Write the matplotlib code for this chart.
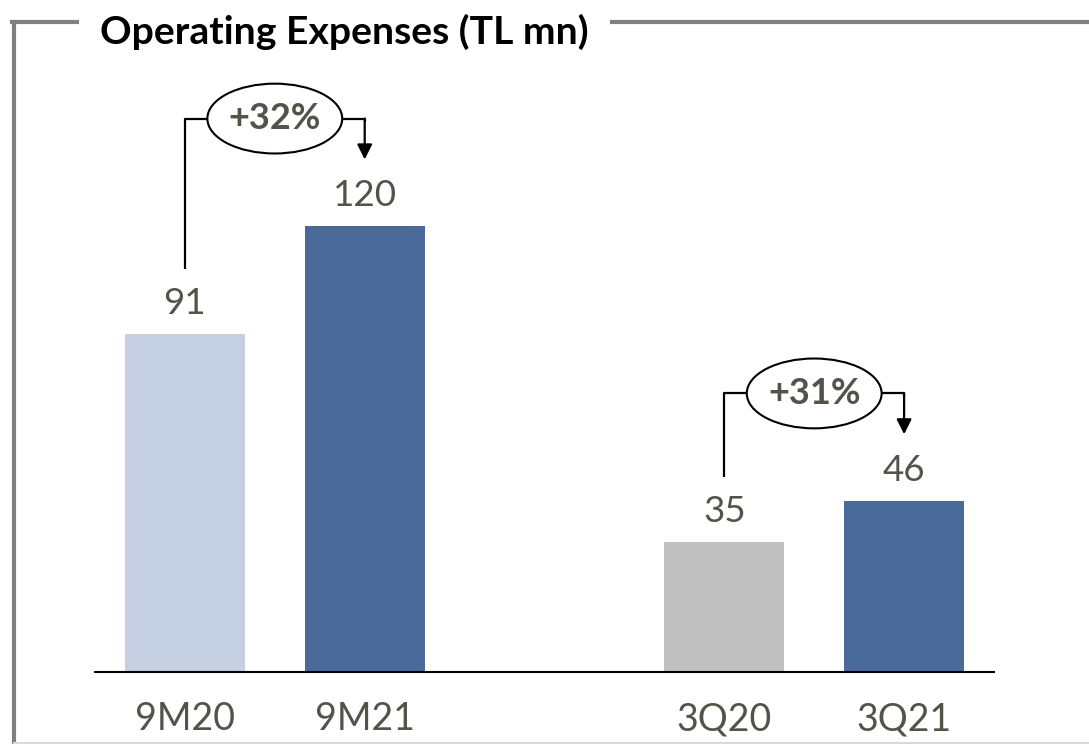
import matplotlib.pyplot as plt
from matplotlib.patches import Ellipse
from matplotlib.lines import Line2D

# Operating expenses, TL mn
periods = ["9M20", "9M21", "3Q20", "3Q21"]
expenses = [91, 120, 35, 46]
growth_labels = ["+32%", "+31%"]

positions = [0, 1, 3, 4]
bar_colors = ["#C5D0E2", "#4A6A9A", "#C0C0C0", "#4A6A9A"]
text_color = "#53534A"
frame_color = "#808080"

plt.rcParams['font.family'] = ['Lato', 'DejaVu Sans']

W, H = 1089, 744
fig = plt.figure(figsize=(W / 100, H / 100), dpi=100)
ax = fig.add_axes([95 / W, (H - 672) / H, (994 - 95) / W, (672 - 22) / H])

ax.bar(positions, expenses, width=0.667, color=bar_colors, zorder=2)
ax.set_xlim(-0.5, 4.5)
ax.set_ylim(0, 175)

for x, v in zip(positions, expenses):
    ax.annotate(str(v), (x, v), xytext=(0, 22), textcoords='offset points',
                ha='center', va='center', fontsize=26.5, color=text_color)

# growth brackets between each pair of bars
for (i, j), lbl in zip([(0, 1), (2, 3)], growth_labels):
    x0, x1 = positions[i], positions[j]
    v0, v1 = expenses[i], expenses[j]
    top = max(v0, v1) + 29
    mid = (x0 + x1) / 2
    ax.plot([x0, x0, x1, x1], [v0 + 17.5, top, top, top - 1],
            color='black', lw=1.6, zorder=3, solid_capstyle='butt')
    ax.annotate("", xy=(x1, v1 + 18), xytext=(x1, top),
                arrowprops=dict(arrowstyle='-|>,head_length=0.9,head_width=0.45',
                                color='black', lw=1.6, shrinkA=0, shrinkB=0),
                zorder=3)
    ax.add_patch(Ellipse((mid, top), width=0.75, height=18.8, facecolor='white',
                         edgecolor='black', lw=1.5, zorder=4))
    ax.text(mid, top, lbl, ha='center', va='center', fontsize=26,
            fontweight='bold', color=text_color, zorder=5)

for side in ['left', 'right', 'top']:
    ax.spines[side].set_visible(False)
ax.spines['bottom'].set_color('black')
ax.spines['bottom'].set_linewidth(1.5)
ax.set_yticks([])
ax.set_xticks(positions)
ax.set_xticklabels(periods, fontsize=27, color=text_color)
ax.tick_params(axis='x', length=0, pad=21)

# frame around the chart, broken by the title
fy = 1 - 22 / H
fig.add_artist(Line2D([14 / W, 14 / W], [0, fy], color=frame_color, lw=3))
fig.add_artist(Line2D([12.5 / W, 77 / W], [fy, fy], color=frame_color, lw=3))
fig.add_artist(Line2D([612 / W, 1], [fy, fy], color=frame_color, lw=3))
fig.add_artist(Line2D([14 / W, 1], [1.5 / H, 1.5 / H], color='#D9D9D9', lw=1.5))
fig.text(100 / W, 1 - 32 / H, "Operating Expenses (TL mn)", ha='left', va='center',
         fontsize=28.2, fontweight='bold', color='black')

fig.savefig("out.png", dpi=100)
